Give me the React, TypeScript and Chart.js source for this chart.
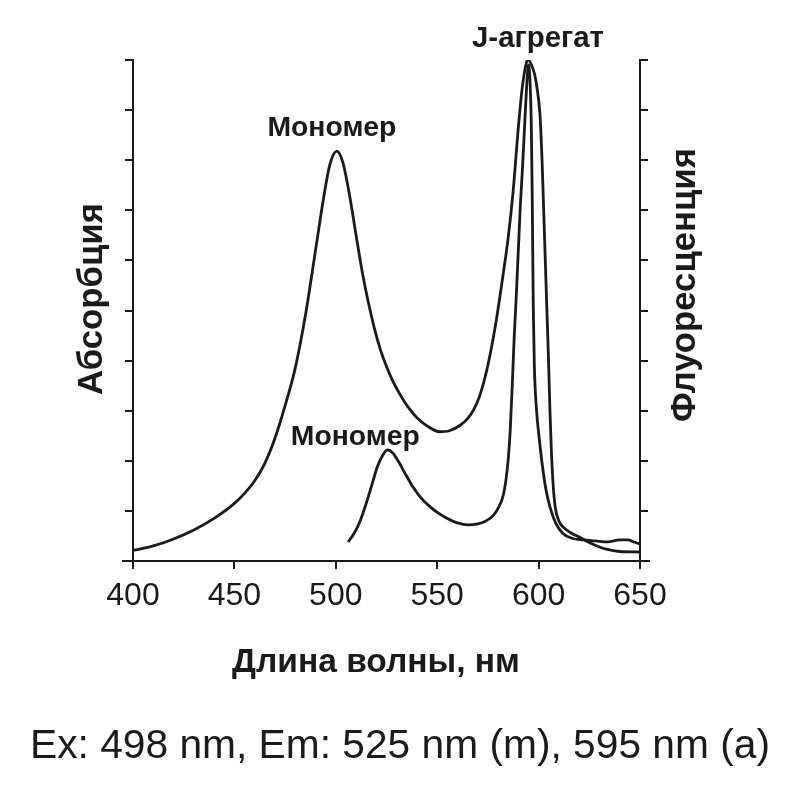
import React, { useEffect, useRef } from "react";
import { Chart, registerables } from "chart.js";

Chart.register(...registerables);

// Absorption (nm, arbitrary units)
const absWavelength = [400, 410, 420, 430, 440, 450, 455, 460, 465, 470, 475, 480, 485, 490, 494, 497, 500.5, 503.5, 507, 510, 513, 516, 519, 522, 525, 528, 531, 534, 537, 540, 546, 551, 556, 561, 565, 568, 571, 574.4, 578.5, 582.4, 584.9, 587.4, 589.8, 591.8, 594, 595, 596.5, 598, 599, 600.7, 601.7, 602.5, 603.3, 604.1, 604.9, 605.6, 606.3, 607.2, 608.3, 610, 612, 616, 620, 625, 630, 635, 640, 650];
const absValues = [0.21, 0.3, 0.44, 0.62, 0.85, 1.15, 1.35, 1.6, 1.95, 2.45, 3.1, 3.85, 4.9, 6.2, 7.25, 7.9, 8.18, 7.95, 7.25, 6.5, 5.78, 5.17, 4.65, 4.22, 3.88, 3.6, 3.37, 3.17, 3.0, 2.86, 2.67, 2.58, 2.6, 2.7, 2.84, 3.02, 3.3, 3.8, 4.65, 5.69, 6.42, 7.36, 8.55, 9.4, 9.95, 10.0, 9.9, 9.72, 9.5, 8.9, 8.0, 7.0, 6.0, 5.0, 4.0, 3.0, 2.2, 1.5, 1.05, 0.8, 0.68, 0.56, 0.48, 0.37, 0.28, 0.22, 0.19, 0.18];

// Fluorescence (nm, arbitrary units)
const fluWavelength = [506, 509, 512, 515, 518, 520.5, 523, 525.5, 528, 531, 534, 538, 542, 546, 550, 555, 560, 565, 570, 574, 577.5, 580, 582.5, 584, 585, 586, 587, 588, 589, 590, 591, 592, 593, 594, 595, 595.8, 596.4, 596.8, 597.1, 597.4, 597.9, 599, 600.3, 601.5, 603.5, 605.6, 608.5, 612, 616, 622, 628, 634, 640, 644, 647, 650];
const fluValues = [0.38, 0.55, 0.8, 1.15, 1.55, 1.88, 2.1, 2.22, 2.16, 1.98, 1.76, 1.48, 1.26, 1.1, 0.97, 0.85, 0.76, 0.72, 0.74, 0.8, 0.9, 1.05, 1.3, 1.65, 2.02, 2.6, 3.5, 4.5, 5.3, 6.2, 7.1, 7.8, 8.6, 9.4, 9.9, 9.55, 8.7, 7.5, 6.2, 5.0, 3.9, 3.0, 2.45, 2.02, 1.45, 1.08, 0.75, 0.55, 0.46, 0.42, 0.4, 0.38, 0.42, 0.42, 0.38, 0.34];

const xTickValues = [400, 450, 500, 550, 600, 650];
const yTickValues = [0, 1, 2, 3, 4, 5, 6, 7, 8, 9, 10];

const leftAxisTitle = "Абсорбция";
const rightAxisTitle = "Флуоресценция";
const xAxisTitle = "Длина волны, нм";
const footerText = "Ex: 498 nm, Em: 525 nm (m), 595 nm (a)";
const peakLabels = [
  { text: "Мономер", x: 498.1, y: 8.64 },
  { text: "Мономер", x: 509.6, y: 2.48 },
  { text: "J-агрегат", x: 599.7, y: 10.42 },
];

const INK = "#1a1a1a";
const FONT = '"Liberation Sans", Arial, sans-serif';

function fitFont(ctx: CanvasRenderingContext2D, text: string, width: number, weight: string) {
  ctx.font = `${weight} 100px ${FONT}`;
  const w = ctx.measureText(text).width;
  const size = (100 * width) / w;
  ctx.font = `${weight} ${size.toFixed(2)}px ${FONT}`;
}

export default function App() {
  const ref = useRef<HTMLCanvasElement>(null);

  useEffect(() => {
    const canvas = ref.current;
    if (!canvas) return;

    const textPlugin = {
      id: "annotText",
      afterDraw(chart: any) {
        const c: CanvasRenderingContext2D = chart.ctx;
        const a = chart.chartArea;
        const xs = chart.scales.x;
        const ys = chart.scales.y;
        c.save();
        c.strokeStyle = INK;
        c.lineWidth = 2;
        c.beginPath();
        c.moveTo(a.left - 11, a.bottom);
        c.lineTo(a.right + 10, a.bottom);
        c.stroke();

        c.fillStyle = INK;
        c.textAlign = "center";
        c.textBaseline = "middle";

        peakLabels.forEach((p, i) => {
          fitFont(c, p.text, i === 2 ? 132 : 129, "bold");
          c.fillText(p.text, xs.getPixelForValue(p.x), ys.getPixelForValue(p.y));
        });

        c.save();
        c.translate(92, 299);
        c.rotate(-Math.PI / 2);
        fitFont(c, leftAxisTitle, 192, "bold");
        c.fillText(leftAxisTitle, 0, 0);
        c.restore();

        c.save();
        c.translate(685, 285);
        c.rotate(-Math.PI / 2);
        fitFont(c, rightAxisTitle, 274, "bold");
        c.fillText(rightAxisTitle, 0, 0);
        c.restore();

        fitFont(c, xAxisTitle, 288, "bold");
        c.fillText(xAxisTitle, 376, 663);

        fitFont(c, footerText, 740, "normal");
        c.fillText(footerText, 400, 747);
        c.restore();
      },
    };

    const axisCommon = {
      min: 0,
      max: 10,
      afterBuildTicks: (scale: any) => {
        scale.ticks = yTickValues.map((v) => ({ value: v }));
      },
      ticks: { display: false },
      grid: {
        display: true,
        drawOnChartArea: false,
        drawTicks: true,
        tickLength: 8,
        color: INK,
        lineWidth: 2,
      },
      border: { display: true, color: INK, width: 2 },
    };

    const lineStyle = {
      borderColor: INK,
      borderWidth: 2.8,
      pointRadius: 0,
      fill: false,
      cubicInterpolationMode: "monotone",
    };

    const chart = new Chart(canvas, {
      type: "line",
      data: {
        datasets: [
          {
            ...lineStyle,
            label: "Абсорбция",
            data: absWavelength.map((x, i) => ({ x, y: absValues[i] })),
            yAxisID: "y",
          },
          {
            ...lineStyle,
            label: "Флуоресценция",
            data: fluWavelength.map((x, i) => ({ x, y: fluValues[i] })),
            yAxisID: "y2",
          },
        ],
      },
      options: {
        responsive: false,
        animation: false,
        layout: { padding: { top: 60, left: 0, right: 0, bottom: 0 } },
        plugins: {
          legend: { display: false },
          tooltip: { enabled: false },
          title: { display: false },
        },
        scales: {
          x: {
            type: "linear",
            min: 400,
            max: 650,
            afterBuildTicks: (scale: any) => {
              scale.ticks = xTickValues.map((v) => ({ value: v }));
            },
            afterFit: (scale: any) => {
              scale.height = 239;
            },
            ticks: {
              color: INK,
              font: { family: FONT, size: 32 },
              padding: 8,
              maxRotation: 0,
              autoSkip: false,
            },
            grid: {
              display: true,
              drawOnChartArea: false,
              drawTicks: true,
              tickLength: 8,
              color: INK,
              lineWidth: 2,
            },
            border: { display: true, color: INK, width: 2 },
          },
          y: {
            ...axisCommon,
            type: "linear",
            position: "left",
            afterFit: (scale: any) => {
              scale.width = 133;
            },
          },
          y2: {
            ...axisCommon,
            type: "linear",
            position: "right",
            afterFit: (scale: any) => {
              scale.width = 160;
            },
          },
        },
      },
      plugins: [textPlugin],
    } as any);

    return () => chart.destroy();
  }, []);

  return (
    <div style={{ position: "absolute", left: 0, top: 0, width: 800, height: 800, background: "#fff" }}>
      <canvas ref={ref} width={800} height={800} />
    </div>
  );
}
